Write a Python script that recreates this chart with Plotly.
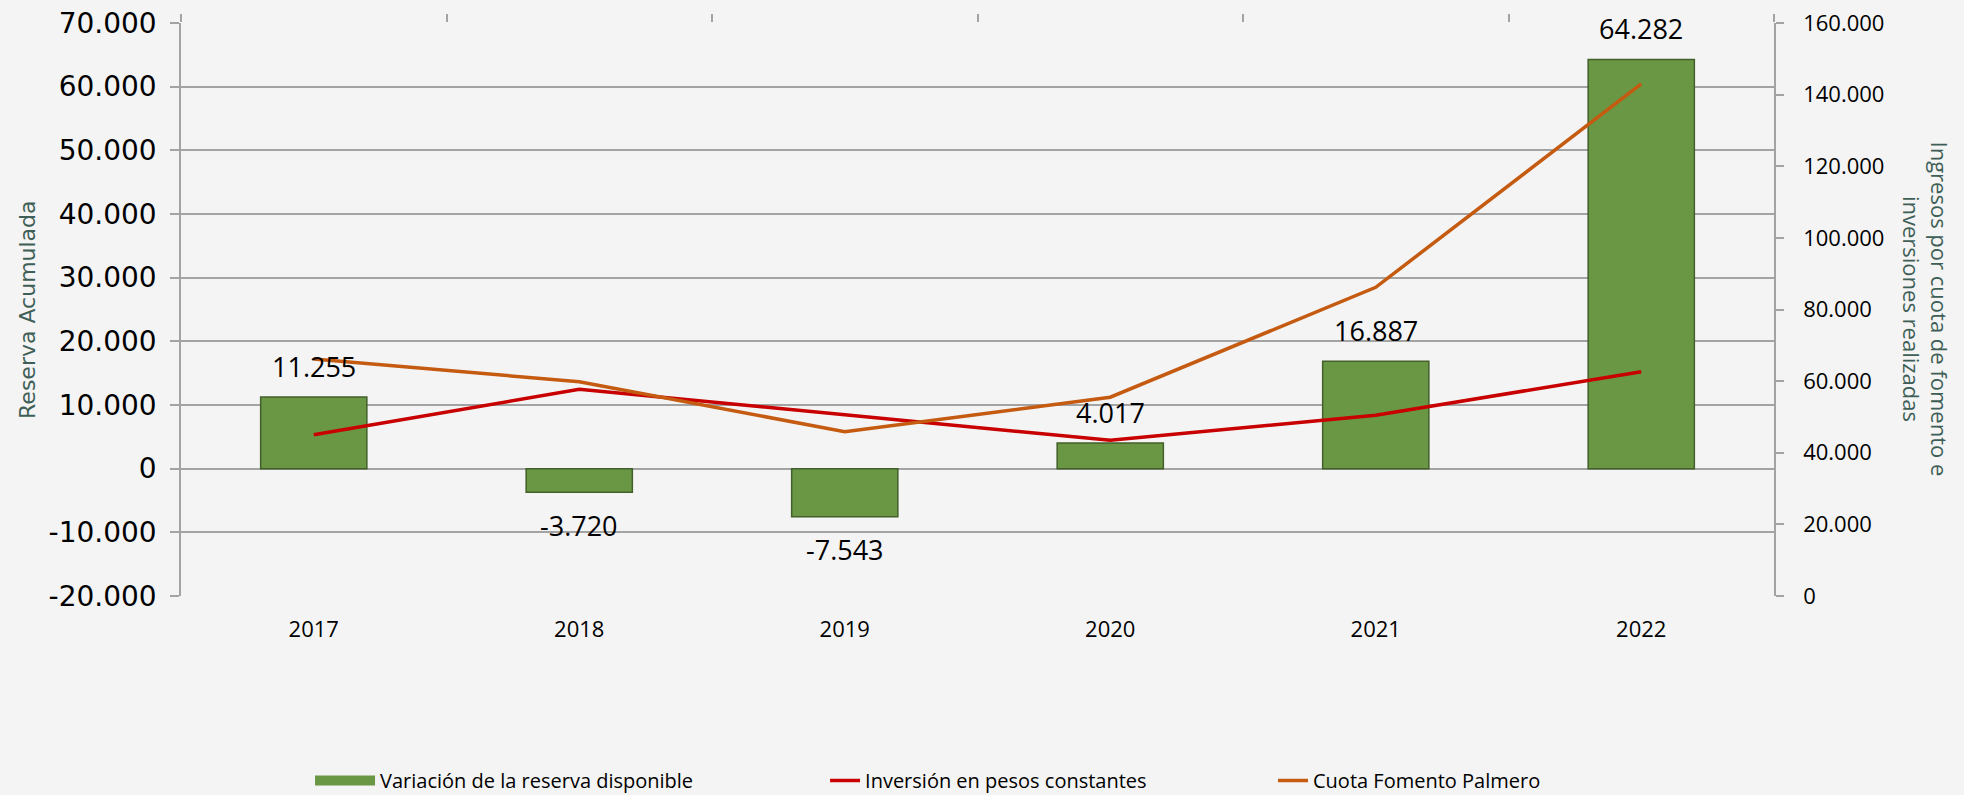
import plotly.graph_objects as go

# ---- data ----
years = ["2017", "2018", "2019", "2020", "2021", "2022"]
variacion_reserva = [11255, -3720, -7543, 4017, 16887, 64282]
inversion_constantes = [45000, 57700, 50600, 43500, 50500, 62600]
cuota_fomento = [66200, 59800, 45900, 55500, 86200, 143000]

left_tickvals = [-20000, -10000, 0, 10000, 20000, 30000, 40000, 50000, 60000, 70000]
left_ticktext = ["-20.000", "-10.000", "0", "10.000", "20.000", "30.000", "40.000", "50.000", "60.000", "70.000"]
right_tickvals = [0, 20000, 40000, 60000, 80000, 100000, 120000, 140000, 160000]
right_ticktext = ["0", "20.000", "40.000", "60.000", "80.000", "100.000", "120.000", "140.000", "160.000"]

name_bar = "Variación de la reserva disponible"
name_inv = "Inversión en pesos constantes"
name_cuota = "Cuota Fomento Palmero"

GREEN = "#6a9744"
GREEN_EDGE = "#435f2a"
RED = "#c80000"
ORANGE = "#c55a11"
GRID = "#a3a3a3"
TITLE_C = "#3e5f57"


def fmt(v):
    return f"{v:,}".replace(",", ".")


fig = go.Figure()

fig.add_trace(go.Bar(
    x=years, y=variacion_reserva, name=name_bar, showlegend=False,
    marker=dict(color=GREEN, line=dict(color=GREEN_EDGE, width=1.5)),
    width=0.4, yaxis="y",
))
# legend proxy for the bar series (wide flat swatch)
fig.add_trace(go.Scatter(
    x=[None], y=[None], mode="lines", name=name_bar,
    line=dict(color=GREEN, width=10), legend="legend", yaxis="y",
))
fig.add_trace(go.Scatter(
    x=years, y=inversion_constantes, mode="lines", name=name_inv,
    line=dict(color=RED, width=3.5), yaxis="y2", legend="legend2",
))
fig.add_trace(go.Scatter(
    x=years, y=cuota_fomento, mode="lines", name=name_cuota,
    line=dict(color=ORANGE, width=3.5), yaxis="y2", legend="legend3",
))
# empty trace so the top category-boundary tick axis is rendered
fig.add_trace(go.Scatter(
    x=[None], y=[None], xaxis="x2", yaxis="y", showlegend=False, hoverinfo="skip",
))

# data labels on bars (category index positions)
for i, v in enumerate(variacion_reserva):
    fig.add_annotation(
        x=i, y=v, xref="x", yref="y", text=fmt(v), showarrow=False,
        yshift=31 if v >= 0 else -33,
        font=dict(family="Open Sans", size=27, color="#000000"),
    )

# axis titles
fig.add_annotation(
    x=-0.0964, y=0.5, xref="paper", yref="paper", text="Reserva Acumulada",
    textangle=-90, showarrow=False, xanchor="center", yanchor="middle",
    font=dict(family="DejaVu Sans", size=22, color=TITLE_C),
)
fig.add_annotation(
    x=1.0954, y=0.5, xref="paper", yref="paper",
    text="Ingresos por cuota de fomento e<br>inversiones realizadas",
    textangle=90, showarrow=False, xanchor="center", yanchor="middle",
    font=dict(family="Open Sans", size=22, color=TITLE_C),
)

legend_common = dict(
    orientation="h", yanchor="middle", y=-0.322, xanchor="left",
    bgcolor="rgba(0,0,0,0)", borderwidth=0,
    font=dict(family="Open Sans", size=20, color="#000000"),
)

fig.update_layout(
    width=1964, height=795, autosize=False,
    margin=dict(l=181, r=190, t=23, b=199, pad=0, autoexpand=False),
    paper_bgcolor="#f4f4f4", plot_bgcolor="rgba(0,0,0,0)",
    bargap=0.6,
    legend=dict(x=0.081, itemwidth=60, **legend_common),
    legend2=dict(x=0.4043, **legend_common),
    legend3=dict(x=0.6855, **legend_common),
    xaxis=dict(
        type="category", showgrid=False, zeroline=False, showline=False,
        ticks="", tickfont=dict(family="Open Sans", size=22, color="#000000"),
        ticklabelstandoff=18, range=[-0.5, 5.5],
    ),
    xaxis2=dict(
        overlaying="x", side="top", anchor="y", range=[-0.5, 5.5],
        tickmode="array", tickvals=[-0.5, 0.5, 1.5, 2.5, 3.5, 4.5, 5.5],
        ticks="outside", ticklen=8, tickwidth=1.5, tickcolor=GRID,
        showticklabels=False, showgrid=False, zeroline=False, showline=False,
    ),
    yaxis=dict(
        range=[-20000, 70000], tickmode="array",
        tickvals=left_tickvals, ticktext=left_ticktext,
        showgrid=True, gridcolor=GRID, gridwidth=1.5,
        zeroline=False, showline=True, linecolor=GRID, linewidth=1.5,
        ticks="outside", ticklen=9, tickwidth=1.5, tickcolor=GRID,
        tickfont=dict(family="DejaVu Sans", size=28, color="#000000"),
        ticklabelstandoff=8,
    ),
    yaxis2=dict(
        overlaying="y", side="right", range=[0, 160000], tickmode="array",
        tickvals=right_tickvals, ticktext=right_ticktext,
        showgrid=False, zeroline=False, showline=True, linecolor=GRID, linewidth=1.5,
        ticks="outside", ticklen=8, tickwidth=1.5, tickcolor=GRID,
        tickfont=dict(family="Open Sans", size=22, color="#000000"),
        ticklabelstandoff=15,
    ),
)

fig.write_html("out.html", config={"displayModeBar": False},
               post_script="document.body.style.margin='0';")
